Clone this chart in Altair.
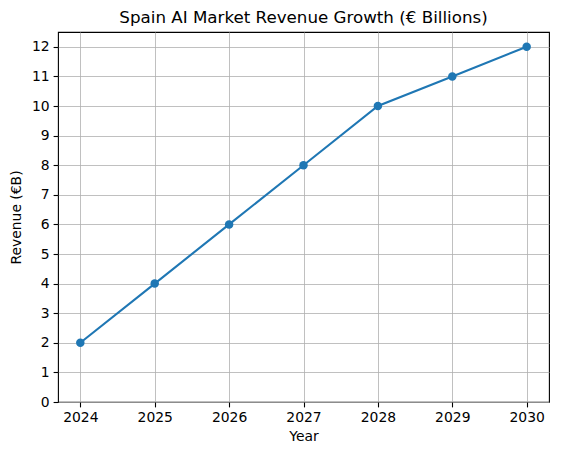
import altair as alt
import pandas as pd

# Chart data
YEARS = [2024, 2025, 2026, 2027, 2028, 2029, 2030]
REVENUE = [2, 4, 6, 8, 10, 11, 12]
Y_TICKS = list(range(0, 13))

DATA = pd.DataFrame({"Year": YEARS, "Revenue": REVENUE})

FONT = "DejaVu Sans"
BLUE = "#1f77b4"

base = alt.Chart(DATA).encode(
    x = alt.X("Year:Q",
              scale = alt.Scale(domain = [2023.7, 2030.3], nice = False, zero = False),
              axis = alt.Axis(title = "Year", values = YEARS, format = "d")),
    y = alt.Y("Revenue:Q",
              scale = alt.Scale(domain = [0, 12.5], nice = False),
              axis = alt.Axis(title = "Revenue (€B)", values = Y_TICKS, titlePadding = 8)),
)

line = base.mark_line(color = BLUE, strokeWidth = 2.1)
points = base.mark_circle(color = BLUE, size = 72, opacity = 1)

chart = (line + points).properties(
    width = 491,
    height = 370,
    title = alt.TitleParams("Spain AI Market Revenue Growth (€ Billions)",
                            font = FONT, fontSize = 16.7, fontWeight = "normal",
                            color = "black", offset = 5),
    autosize = alt.AutoSizeParams(type = "none"),
    padding = {"left": 50, "top": 24, "right": 6, "bottom": 45},
).configure_view(
    stroke = "black", strokeWidth = 1.1
).configure_axis(
    grid = True, gridColor = "#b0b0b0", gridWidth = 0.8,
    domain = False, tickColor = "black", tickSize = 4.9, tickWidth = 1.1,
    labelFont = FONT, labelFontSize = 13.9, labelColor = "black", labelPadding = 4,
    titleFont = FONT, titleFontSize = 13.9, titleFontWeight = "normal", titleColor = "black",
    titlePadding = 5,
).configure_axisX(
    labelFlush = False
).configure_axisY(
    labelFlush = False
)

chart.save("out.html", embed_options = {"renderer": "svg", "actions": False})
